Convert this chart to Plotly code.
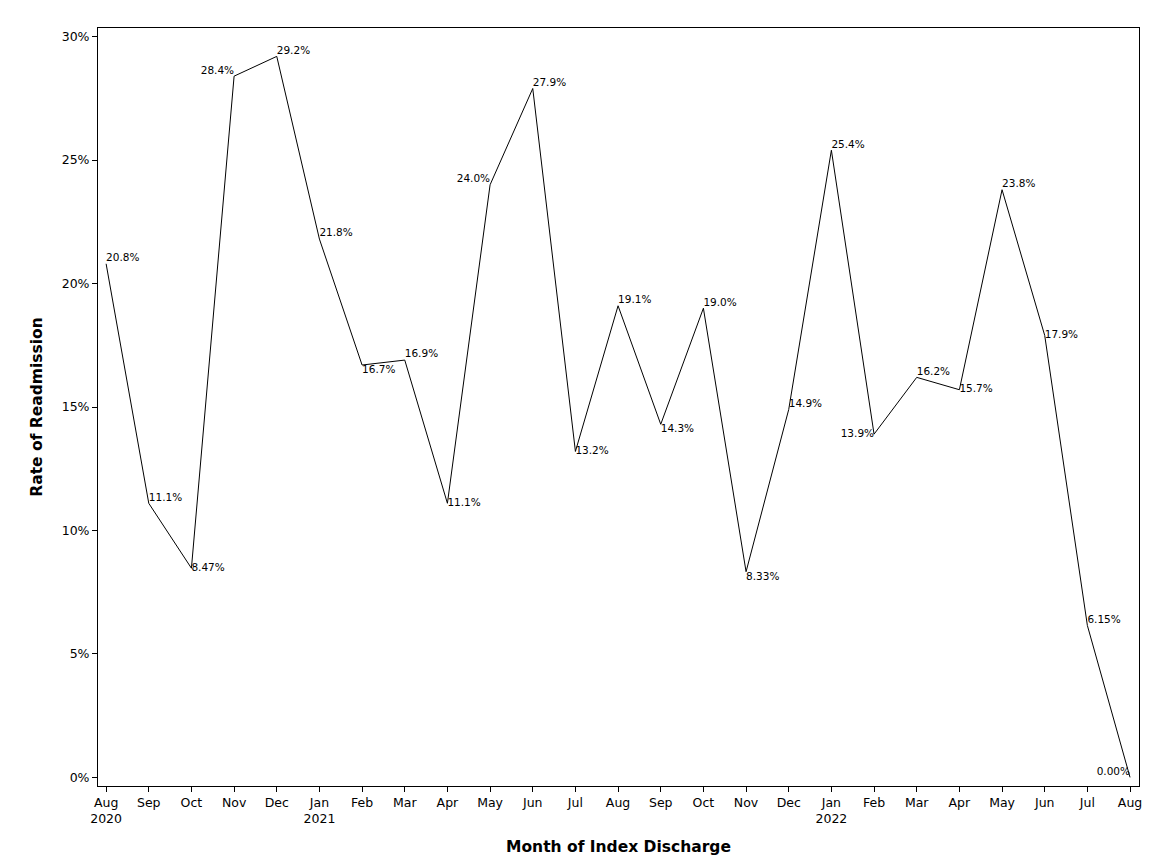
import plotly.graph_objects as go

months = ["Aug<br>2020","Sep","Oct","Nov","Dec","Jan<br>2021","Feb","Mar","Apr","May","Jun","Jul",
          "Aug","Sep","Oct","Nov","Dec","Jan<br>2022","Feb","Mar","Apr","May","Jun","Jul","Aug"]
rates = [20.8,11.1,8.47,28.4,29.2,21.8,16.7,16.9,11.1,24.0,27.9,13.2,19.1,14.3,19.0,8.33,14.9,25.4,13.9,16.2,15.7,23.8,17.9,6.15,0.00]
labels = ["20.8%","11.1%","8.47%","28.4%","29.2%","21.8%","16.7%","16.9%","11.1%","24.0%","27.9%","13.2%",
          "19.1%","14.3%","19.0%","8.33%","14.9%","25.4%","13.9%","16.2%","15.7%","23.8%","17.9%","6.15%","0.00%"]
positions = ["top right","top right","middle right","top left","top right","top right","bottom right","top right",
             "middle right","top left","top right","middle right","top right","bottom right","top right","bottom right",
             "top right","top right","middle left","top right","middle right","top right","middle right","top right","top left"]
x = list(range(len(rates)))

fig = go.Figure(go.Scatter(x=x, y=rates, mode="lines+text", text=labels, textposition=positions,
                           line=dict(color="black", width=1), textfont=dict(size=10.5, color="black"),
                           cliponaxis=False))
ax = dict(showline=True, linecolor="black", mirror=True, ticks="outside", tickcolor="black",
          showgrid=False, zeroline=False, tickfont=dict(size=12.5, color="black"))
fig.update_xaxes(**ax, tickvals=x, ticktext=months, range=[-0.19, 24.21],
                 title=dict(text="<b>Month of Index Discharge</b>", font=dict(size=15.5)))
fig.update_yaxes(**ax, tickvals=[0,5,10,15,20,25,30], ticktext=["0%","5%","10%","15%","20%","25%","30%"],
                 range=[-0.35, 30.35], title=dict(text="<b>Rate of Readmission</b>", font=dict(size=15.5)))
fig.update_layout(width=1152, height=864, plot_bgcolor="white", paper_bgcolor="white",
                  margin=dict(l=90, r=21, t=20, b=86, autoexpand=False), showlegend=False,
                  font=dict(family="DejaVu Sans", color="black"))
fig.write_html("out.html")
